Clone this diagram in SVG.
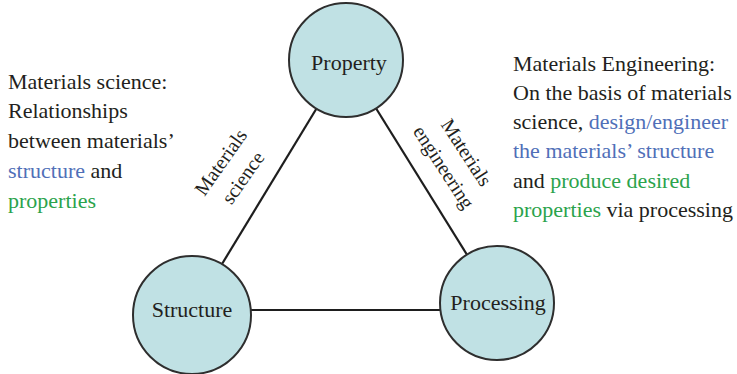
<svg xmlns="http://www.w3.org/2000/svg" width="737" height="374" viewBox="0 0 737 374">
<style>
text{font-family:"Liberation Serif","Times New Roman",serif;fill:#231f20}
.body{font-size:22px}
.node circle{fill:#c0e1e4;stroke:#2e2e2e;stroke-width:2}
.node text{font-size:22px;text-anchor:middle}
.edge{stroke:#1e1e1e;stroke-width:2.2;fill:none}
.elabel{font-size:20px;text-anchor:middle}
.blue{fill:#506fb8}
.green{fill:#2ba34c}
</style>
<rect width="737" height="374" fill="#ffffff"/>
<g id="connectors">
<line class="edge" x1="346" y1="60" x2="191" y2="315"/>
<line class="edge" x1="346" y1="60" x2="497" y2="303"/>
<line class="edge" x1="245" y1="310" x2="445" y2="310"/>
</g>
<g id="edge-labels">
<g transform="translate(232,170) rotate(-55)">
<text class="elabel" x="0" y="-7">Materials</text>
<text class="elabel" x="0" y="20">science</text>
</g>
<g transform="translate(455,160) rotate(57)">
<text class="elabel" x="0" y="-7">Materials</text>
<text class="elabel" x="0" y="20">engineering</text>
</g>
</g>
<g id="property" class="node">
<circle cx="346" cy="60" r="57"/>
<text x="349" y="70">Property</text>
</g>
<g id="structure" class="node">
<circle cx="192" cy="315" r="59"/>
<text x="192" y="317">Structure</text>
</g>
<g id="processing" class="node">
<circle cx="497" cy="303" r="57"/>
<text x="498" y="310">Processing</text>
</g>
<g id="science-note">
<text class="body" x="8" y="88.5">Materials science:</text>
<text class="body" x="8" y="118.3">Relationships</text>
<text class="body" x="8" y="148">between materials’</text>
<text class="body" x="8" y="178"><tspan class="blue">structure</tspan> and</text>
<text class="body" x="8" y="207.7"><tspan class="green">properties</tspan></text>
</g>
<g id="engineering-note">
<text class="body" x="513" y="71">Materials Engineering:</text>
<text class="body" x="513" y="100">On the basis of materials</text>
<text class="body" x="513" y="129">science, <tspan class="blue">design/engineer</tspan></text>
<text class="body" x="513" y="158"><tspan class="blue">the materials’ structure</tspan></text>
<text class="body" x="513" y="188">and <tspan class="green">produce desired</tspan></text>
<text class="body" x="513" y="217"><tspan class="green">properties</tspan> via processing</text>
</g>
</svg>
